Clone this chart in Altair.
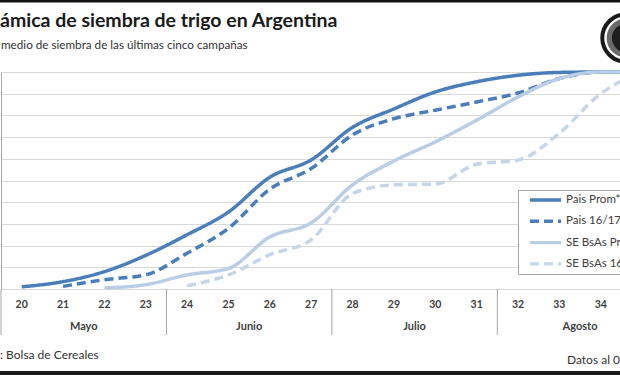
import altair as alt
import pandas as pd

# ---------------- data ----------------
weeks = list(range(20, 36))
pais_prom = [1, 3.4, 8, 15.5, 25, 35.5, 51.5, 59.5, 74.5, 83, 90.8, 95.5, 98.5, 99.8, 100, 100]
pais_1617 = [None, 1.2, 4.3, 6.5, 16.5, 28, 46, 55.5, 71, 78.5, 82.4, 86.2, 90.3, 97, 100, 100]
se_prom = [None, None, 0.5, 2, 6.5, 9.5, 24, 30.5, 48, 59, 67.8, 77.8, 88.5, 97, 100, 100]
se_1617 = [None, None, None, None, 1.5, 6.5, 15.8, 22.7, 44, 48, 48.4, 57.5, 59.4, 71.8, 90, 100]

series_names = ["Pais Prom*", "Pais 16/17", "SE BsAs Prom*", "SE BsAs 16/17"]
series_values = [pais_prom, pais_1617, se_prom, se_1617]
series_colors = ["#4a7ebb", "#4a7ebb", "#b9cde5", "#c6d5e8"]
series_dash = [[1, 0], [9, 5], [1, 0], [9, 5]]

week_labels = list(range(20, 35))
week_bounds = [19.5 + i for i in range(17)]
month_names = ["Mayo", "Junio", "Julio", "Agosto"]
month_centers = [21.5, 25.5, 29.5, 33.5]
month_bounds = [19.5, 23.5, 27.5, 31.5, 35.5]
y_ticks = list(range(0, 101, 10))

title_text = "ámica de siembra de trigo en Argentina"
subtitle_text = "medio de siembra de las últimas cinco campañas"
source_text = ": Bolsa de Cereales"
date_text = "Datos al 0"

# ---------------- tables ----------------
rows = []
for name, vals in zip(series_names, series_values):
    for w, v in zip(weeks, vals):
        if v is not None:
            rows.append({"week": w, "pct": v, "series": name})
df = pd.DataFrame(rows)

W, H = 619, 217
FONT = "Lato"
X_DOMAIN = [19.5, 19.5 + W / 41.36]


def xenc(field, axis=None):
    kw = dict(scale=alt.Scale(domain=X_DOMAIN, nice=False, zero=False))
    kw["axis"] = axis
    return alt.X(f"{field}:Q", **kw)


legend = alt.Legend(
    title=None, orient="none", legendX=517, legendY=118,
    symbolType="stroke", symbolSize=961, symbolStrokeWidth=3.4,
    clipHeight=12, rowPadding=9.3, padding=4, symbolOffset=6,
    labelOffset=3, labelFont=FONT, labelFontSize=11.5, labelColor="#404040",
    fillColor="white", strokeColor="#a6a6a6",
)

lines = alt.Chart(df).mark_line(interpolate="monotone", strokeWidth=3.5).encode(
    x=xenc("week", alt.Axis(values=week_bounds, grid=True, gridColor="#d9d9d9",
                           labels=False, ticks=True, tickSize=23, tickColor="#a6a6a6",
                           domainColor="#a6a6a6", title=None)),
    y=alt.Y("pct:Q", scale=alt.Scale(domain=[0, 100], nice=False),
            axis=alt.Axis(values=y_ticks, grid=True, gridColor="#d9d9d9", labels=False,
                          ticks=False, domainColor="#a6a6a6", title=None)),
    color=alt.Color("series:N", scale=alt.Scale(domain=series_names, range=series_colors),
                    sort=series_names, legend=legend),
    strokeDash=alt.StrokeDash("series:N", scale=alt.Scale(domain=series_names, range=series_dash),
                              sort=series_names, legend=legend),
)

month_sep = alt.Chart(pd.DataFrame({"b": month_bounds})).mark_rule(
    color="#a6a6a6", strokeWidth=1).encode(
    x=xenc("b"), y=alt.value(H), y2=alt.value(H + 46))

week_txt = alt.Chart(pd.DataFrame({"w": week_labels})).mark_text(
    font=FONT, fontWeight="bold", fontSize=10.5, color="#404040", baseline="middle").encode(
    x=xenc("w"), y=alt.value(233), text="w:N")

month_txt = alt.Chart(pd.DataFrame({"c": month_centers, "m": month_names})).mark_text(
    font=FONT, fontWeight="bold", fontSize=11, color="#404040", baseline="middle").encode(
    x=xenc("c"), y=alt.value(255), text="m:N")


def label(text, x, y, size, weight="normal", align="left", color="#262626"):
    return alt.Chart(pd.DataFrame({"t": [text]})).mark_text(
        font=FONT, fontSize=size, fontWeight=weight, align=align,
        baseline="alphabetic", color=color).encode(
        x=alt.value(x), y=alt.value(y), text="t:N")


title = label(title_text, -1, -45, 19.5, "bold", color="#1a1a1a")
subtitle = label(subtitle_text, 0, -23, 11.7, color="#333333")
source = label(source_text, -1, 287, 12, color="#333333")
date = label(date_text, 619, 292, 12, align="right", color="#333333")

top_bar = alt.Chart(pd.DataFrame({"k": [0]})).mark_rule(color="#111111", strokeWidth=3).encode(
    x=alt.value(-1), x2=alt.value(W), y=alt.value(-71))
bottom_bar = alt.Chart(pd.DataFrame({"k": [0]})).mark_rule(color="#1a1a1a", strokeWidth=4).encode(
    x=alt.value(-1), x2=alt.value(W), y=alt.value(301))

logo_outer = alt.Chart(pd.DataFrame({"k": [0]})).mark_point(
    shape="circle", filled=False, color="#1a1a1a", strokeWidth=4, size=2250, opacity=1).encode(
    x=alt.value(625), y=alt.value(-34))
logo_mid = alt.Chart(pd.DataFrame({"k": [0]})).mark_point(
    shape="circle", filled=True, color="#6a6a6a", size=1500, opacity=1).encode(
    x=alt.value(625), y=alt.value(-34))
logo_inner = alt.Chart(pd.DataFrame({"k": [0]})).mark_point(
    shape="circle", filled=True, color="#1f1f1f", size=800, opacity=1).encode(
    x=alt.value(625), y=alt.value(-34))

chart = alt.layer(
    lines, month_sep, week_txt, month_txt, title, subtitle, source, date,
    top_bar, bottom_bar, logo_outer, logo_mid, logo_inner,
).properties(
    width=W, height=H,
    padding={"left": 1, "top": 72, "right": 0, "bottom": 86},
    autosize=alt.AutoSizeParams(type="none"),
    background="white",
).configure_view(strokeWidth=0)

chart.save("out.html", embed_options={"renderer": "svg", "actions": False})
